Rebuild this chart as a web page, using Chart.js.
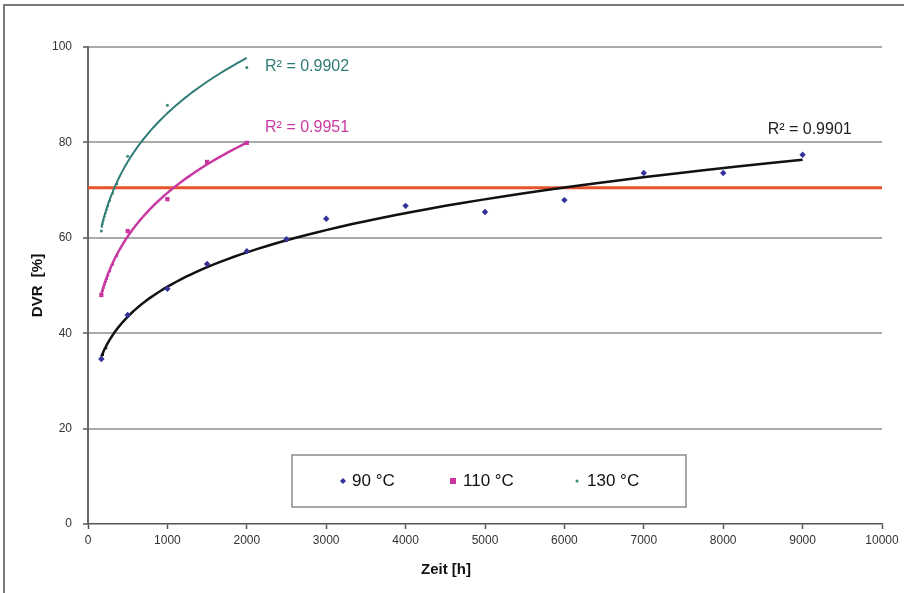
<!DOCTYPE html>
<html>
<head>
<meta charset="utf-8">
<script src="https://cdn.jsdelivr.net/npm/chart.js@4"></script>
<style>
    html, body { margin: 0; padding: 0; background: #fff; }
    #frame { position: absolute; left: 3px; top: 4px; width: 910px; height: 600px;
             border-left: 2px solid #7a7a7a; border-top: 2px solid #7a7a7a; }
    #wrap { position: absolute; left: 0; top: 0; width: 904px; height: 593px; }
</style>
</head>
<body>
<div id="frame"></div>
<div id="wrap"><canvas id="chart" width="904" height="593"></canvas></div>
<script>
// Measured values (Zeit [h] vs DVR [%])
const hours90 = [168, 500, 1000, 1500, 2000, 2500, 3000, 4000, 5000, 6000, 7000, 8000, 9000];
const dvr90 = [34.6, 43.8, 49.3, 54.5, 57.2, 59.7, 64.0, 66.7, 65.4, 67.9, 73.6, 73.6, 77.4];
const hours110 = [168, 500, 1000, 1500, 2000];
const dvr110 = [48.0, 61.4, 68.1, 75.9, 79.9];
const hours130 = [168, 500, 1000, 2000];
const dvr130 = [61.4, 77.1, 87.8, 95.7];
const limitDvr = 70.5;

const xTicks = [0, 10000, 1000];   // min, max, step
const yTicks = [0, 100, 20];
const seriesNames = ['90 °C', '110 °C', '130 °C'];
const r2Labels = ['R² = 0.9901', 'R² = 0.9951', 'R² = 0.9902'];

const FONT = '"Liberation Sans", Arial, sans-serif';
const colors = { c90: '#34329a', c110: '#c8369e', c130: '#3a857d', trend90: '#111111',
                 trend110: '#c83aa2', trend130: '#2f7b76', limit: '#e8522c' };

const toPts = (xs, ys) => xs.map((x, i) => ({ x: x, y: ys[i] }));

// Excel-style power trendline (least squares on ln x / ln y)
function powerTrend(xs, ys) {
    const lx = xs.map(Math.log), ly = ys.map(Math.log);
    const n = xs.length;
    const mx = lx.reduce((a, b) => a + b, 0) / n;
    const my = ly.reduce((a, b) => a + b, 0) / n;
    let sxy = 0, sxx = 0;
    lx.forEach((v, i) => { sxy += (v - mx) * (ly[i] - my); sxx += (v - mx) * (v - mx); });
    const p = sxy / sxx, lnc = my - p * mx;
    const x0 = Math.log(Math.min(...xs)), x1 = Math.log(Math.max(...xs));
    const out = [];
    for (let i = 0; i <= 80; i++) {
        const x = Math.exp(x0 + (x1 - x0) * i / 80);
        out.push({ x: x, y: Math.exp(lnc) * Math.pow(x, p) });
    }
    return out;
}

const overlay = {
    id: 'overlay',
    afterDraw(chart) {
        const ctx = chart.ctx, xs = chart.scales.x, ys = chart.scales.y, ca = chart.chartArea;
        ctx.save();
        // R² labels
        ctx.font = '16px ' + FONT;
        ctx.textBaseline = 'middle';
        ctx.textAlign = 'left';
        ctx.fillStyle = colors.trend130;
        ctx.fillText(r2Labels[2], xs.getPixelForValue(2230), ys.getPixelForValue(95.8));
        ctx.fillStyle = colors.trend110;
        ctx.fillText(r2Labels[1], xs.getPixelForValue(2230), ys.getPixelForValue(83.2));
        ctx.fillStyle = '#222';
        ctx.fillText(r2Labels[0], xs.getPixelForValue(8560), ys.getPixelForValue(82.6));

        // Legend box
        const lx = ca.left + 204, ly = ca.bottom - 69, lw = 394, lh = 52;
        ctx.fillStyle = '#fff';
        ctx.fillRect(lx, ly, lw, lh);
        ctx.strokeStyle = '#8a8a8a';
        ctx.lineWidth = 1.5;
        ctx.strokeRect(lx, ly, lw, lh);
        const cy = ly + lh / 2;
        ctx.font = '17px ' + FONT;
        // 90 °C diamond
        ctx.fillStyle = colors.c90;
        ctx.beginPath();
        ctx.moveTo(lx + 51, cy - 3); ctx.lineTo(lx + 54, cy); ctx.lineTo(lx + 51, cy + 3); ctx.lineTo(lx + 48, cy);
        ctx.fill();
        ctx.fillStyle = '#111';
        ctx.fillText(seriesNames[0], lx + 60, cy);
        // 110 °C square
        ctx.fillStyle = colors.c110;
        ctx.fillRect(lx + 158, cy - 3, 6, 6);
        ctx.fillStyle = '#111';
        ctx.fillText(seriesNames[1], lx + 171, cy);
        // 130 °C dot
        ctx.fillStyle = colors.c130;
        ctx.beginPath();
        ctx.arc(lx + 285, cy, 1.5, 0, Math.PI * 2);
        ctx.fill();
        ctx.fillStyle = '#111';
        ctx.fillText(seriesNames[2], lx + 295, cy);

        // axis titles
        ctx.font = 'bold 15px ' + FONT;
        ctx.textAlign = 'center';
        ctx.fillText('Zeit [h]', 446, 570);
        ctx.translate(38, (ca.top + ca.bottom) / 2);
        ctx.rotate(-Math.PI / 2);
        ctx.fillText('DVR  [%]', 0, 0);
        ctx.restore();
    }
};

new Chart(document.getElementById('chart'), {
    type: 'scatter',
    data: {
        datasets: [
            { label: seriesNames[0], data: toPts(hours90, dvr90), pointStyle: 'rectRot', pointRadius: 3.2,
              backgroundColor: colors.c90, borderColor: colors.c90, borderWidth: 0, order: 0 },
            { label: seriesNames[1], data: toPts(hours110, dvr110), pointStyle: 'rect', pointRadius: 3,
              backgroundColor: colors.c110, borderColor: colors.c110, borderWidth: 0, order: 0 },
            { label: seriesNames[2], data: toPts(hours130, dvr130), pointStyle: 'circle', pointRadius: 1.5,
              backgroundColor: colors.c130, borderColor: colors.c130, borderWidth: 0, order: 0 },
            { data: powerTrend(hours90, dvr90), showLine: true, pointRadius: 0,
              borderColor: colors.trend90, borderWidth: 2.5, order: 1 },
            { data: powerTrend(hours110, dvr110), showLine: true, pointRadius: 0,
              borderColor: colors.trend110, borderWidth: 2.5, order: 1 },
            { data: powerTrend(hours130, dvr130), showLine: true, pointRadius: 0,
              borderColor: colors.trend130, borderWidth: 2, order: 1 },
            { data: [{ x: xTicks[0], y: limitDvr }, { x: xTicks[1], y: limitDvr }], showLine: true,
              pointRadius: 0, borderColor: colors.limit, borderWidth: 3, order: 2 }
        ]
    },
    options: {
        responsive: false,
        animation: false,
        layout: { padding: { top: 47, right: 22, left: 0, bottom: 0 } },
        plugins: { legend: { display: false }, tooltip: { enabled: false } },
        scales: {
            x: {
                type: 'linear', min: xTicks[0], max: xTicks[1],
                afterFit: s => { s.height = 69; },
                ticks: { stepSize: xTicks[2], padding: 4, color: '#333', font: { family: FONT, size: 12 },
                         callback: v => String(v) },
                grid: { drawOnChartArea: false, tickLength: 5, tickColor: '#555', tickWidth: 1.5 },
                border: { color: '#555', width: 1.5 }
            },
            y: {
                min: yTicks[0], max: yTicks[1],
                afterFit: s => { s.width = 88; },
                ticks: { stepSize: yTicks[2], padding: 11, color: '#333', font: { family: FONT, size: 12 },
                         callback: v => String(v) },
                grid: {
                    color: c => (c.tick && c.tick.value === 0) ? 'rgba(0,0,0,0)' : '#a9a9a9',
                    lineWidth: 2, tickLength: 5, tickColor: '#555', tickWidth: 1.5
                },
                border: { color: '#666', width: 2 }
            }
        }
    },
    plugins: [overlay]
});
</script>
</body>
</html>
